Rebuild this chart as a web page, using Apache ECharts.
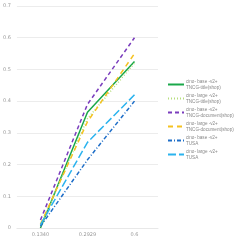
<!DOCTYPE html>
<html><head><meta charset="utf-8">
<script src="https://cdn.jsdelivr.net/npm/echarts@6/dist/echarts.min.js"></script>
<style>html,body{margin:0;padding:0;background:#fff}#c{width:240px;height:240px}</style>
</head><body><div id="c"></div>
<script>
var categories = ["0.1340", "0.2929", "0.6"];
var seriesNames = [
  "cino- base -v2+\nTNCG-title(shop)",
  "cino- large -v2+\nTNCG-title(shop)",
  "cino- base -v2+\nTNCG-document(shop)",
  "cino- large -v2+\nTNCG-document(shop)",
  "cino- base -v2+\nTUSA",
  "cino- large -v2+\nTUSA"
];
var baseTitle = [0.0, 0.365, 0.525];
var largeTitle = [0.005, 0.345, 0.52];
var baseDoc = [0.025, 0.39, 0.60];
var largeDoc = [0.012, 0.335, 0.55];
var baseTusa = [0.005, 0.215, 0.40];
var largeTusa = [0.01, 0.27, 0.42];
var yTicks = [0, 0.1, 0.2, 0.3, 0.4, 0.5, 0.6, 0.7];

var colors = ["#1aa84a", "#b6de7c", "#7a3dbd", "#f5c220", "#1e6ec8", "#2bb3ee"];
var dashes = ["solid", [1, 2], [4, 3], [5, 4], [4, 2, 1, 2], [8, 3]];
var values = [baseTitle, largeTitle, baseDoc, largeDoc, baseTusa, largeTusa];

var chart = echarts.init(document.getElementById('c'), null, {renderer: 'canvas'});
chart.setOption({
  animation: false,
  grid: {left: 14, right: 82, top: 6, bottom: 12, containLabel: false},
  legend: {
    orient: 'vertical', left: 162, top: 74, itemGap: 3, itemWidth: 16, itemHeight: 8,
    itemStyle: {opacity: 0},
    textStyle: {fontSize: 4.6, color: '#888', lineHeight: 5.5, fontFamily: 'Liberation Sans', padding: [0, 0, 0, -3]},
    data: seriesNames
  },
  xAxis: {
    type: 'category', data: categories, boundaryGap: true,
    axisLine: {lineStyle: {color: '#e8e8e8'}}, axisTick: {show: false},
    axisLabel: {fontSize: 5, color: '#999', margin: 4, fontFamily: 'DejaVu Sans'}
  },
  yAxis: {
    type: 'value', min: 0, max: 0.7, interval: 0.1,
    axisLine: {show: false}, axisTick: {show: false},
    splitLine: {lineStyle: {color: '#ececec', width: 1}},
    axisLabel: {fontSize: 5, color: '#999', margin: 6, fontFamily: 'DejaVu Sans',
      formatter: function (v) { var r = Math.round(v * 10) / 10; return yTicks.indexOf(r) >= 0 ? String(r) : ''; }}
  },
  series: seriesNames.map(function (n, i) {
    return {
      name: n, type: 'line', data: values[i], symbol: 'none', smooth: false,
      color: colors[i],
      lineStyle: {color: colors[i], width: 1.5, type: dashes[i]},
      itemStyle: {color: colors[i]}
    };
  })
});
</script></body></html>
